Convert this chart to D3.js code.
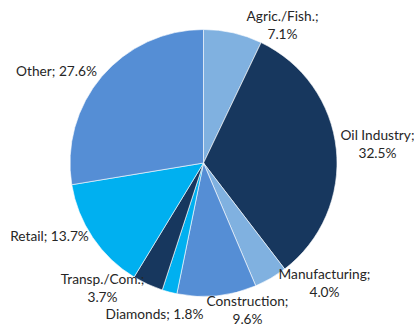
<!DOCTYPE html>
<html>
<head>
<meta charset="utf-8">
<script src="https://cdn.jsdelivr.net/npm/d3@7"></script>
<style>
  body { margin: 0; background: #fff; }
  text { font-family: Lato, "Liberation Sans", sans-serif; font-size: 13.7px; fill: #262626; }
</style>
</head>
<body>
<div id="chart"></div>
<script>
// sectors and shares, clockwise from 12 o'clock
var sectors = ['Agric./Fish.', 'Oil Industry', 'Manufacturing', 'Construction', 'Diamonds', 'Transp./Com.', 'Retail', 'Other'];
var shares = [7.1, 32.5, 4.0, 9.6, 1.8, 3.7, 13.7, 27.6];

var colors = ['#80b1e0', '#17375e', '#80b1e0', '#558ed5', '#00b0f0', '#17375e', '#00b0f0', '#558ed5'];

// label anchors relative to pie centre, and whether they wrap onto two lines
var labelPos = [
  { x: 79, y: -139, wrap: true },
  { x: 174, y: -20, wrap: true },
  { x: 121, y: 119, wrap: true },
  { x: 44, y: 146, wrap: true },
  { x: -49, y: 151, wrap: false },
  { x: -101, y: 124, wrap: true },
  { x: -154, y: 73, wrap: false },
  { x: -147, y: -92, wrap: false }
];

var width = 414, height = 333;
var cx = 203.5, cy = 163, radius = 133.5;

var svg = d3.select("#chart")
  .append("svg")
  .attr("width", width)
  .attr("height", height)
  .append("g")
  .attr("transform", "translate(" + cx + "," + cy + ")");

var data = sectors.map(function (s, i) { return { name: s, value: shares[i], i: i }; });

var pie = d3.pie()
  .value(function (d) { return d.value; })
  .sort(null);

var arc = d3.arc()
  .innerRadius(0)
  .outerRadius(radius);

var arcs = pie(data);

svg.selectAll("path")
  .data(arcs)
  .enter()
  .append("path")
  .attr("d", arc)
  .attr("fill", function (d) { return colors[d.data.i]; })
  .attr("stroke", "#fff")
  .attr("stroke-width", 0.6);

var labels = svg.selectAll(".lbl")
  .data(arcs)
  .enter()
  .append("text")
  .attr("class", "lbl")
  .attr("text-anchor", "middle")
  .attr("transform", function (d) {
    var p = labelPos[d.data.i];
    return "translate(" + p.x + "," + p.y + ")";
  });

labels.each(function (d) {
  var t = d3.select(this);
  var p = labelPos[d.data.i];
  var pct = d.data.value.toFixed(1) + "%";
  if (p.wrap) {
    t.append("tspan").attr("x", 0).attr("dy", "-0.25em").text(d.data.name + ";");
    t.append("tspan").attr("x", 0).attr("dy", 18).text(pct);
  } else {
    t.append("tspan").attr("x", 0).attr("dy", "0.35em").text(d.data.name + "; " + pct);
  }
});
</script>
</body>
</html>
